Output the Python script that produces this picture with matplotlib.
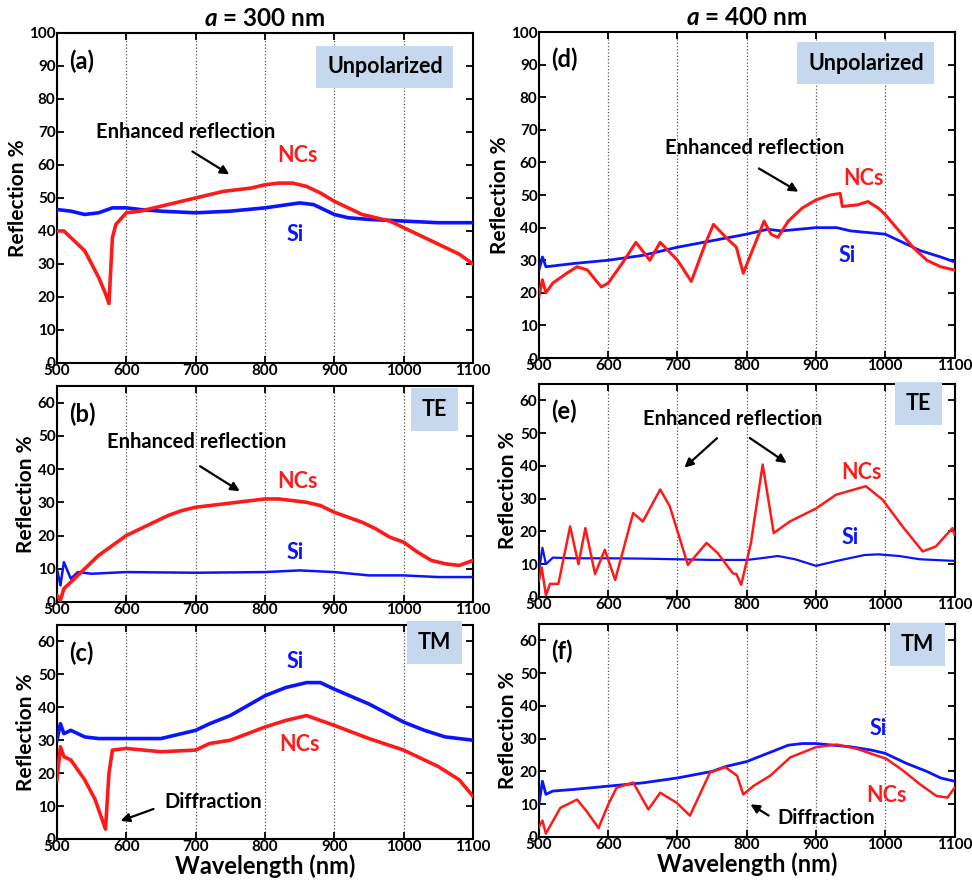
import matplotlib
matplotlib.use('Agg')
import matplotlib.pyplot as plt

plt.rcParams.update({
    'font.family': ['Lato', 'DejaVu Sans'], 'font.weight': 'bold',
    'axes.labelweight': 'bold', 'axes.titleweight': 'bold', 'axes.linewidth': 1.5,
    'mathtext.fontset': 'custom', 'mathtext.it': 'Lato:italic:bold',
    'mathtext.rm': 'Lato:bold',
})

RED, BLUE, BOX = '#ff1a1a', '#0a14ff', '#c5d8ee'

# ---- (a) a=300 nm, unpolarized ----
a_nc_wl = [500, 510, 520, 530, 540, 550, 560, 570, 575, 578, 580, 585, 600, 620, 640, 660, 680, 700, 720, 740,
           760, 780, 800, 820, 840, 860, 880, 900, 920, 940, 960, 980, 1000, 1020, 1040, 1060, 1080, 1100]
a_nc_r = [40, 40, 38, 36, 34, 30, 26, 21, 18, 30, 38, 42, 45.5, 46, 47, 48, 49, 50, 51, 52,
          52.5, 53, 54, 54.5, 54.5, 53.5, 51.5, 49, 47, 45, 44, 43, 41, 39, 37, 35, 33, 30]
a_si_wl = [500, 520, 540, 560, 580, 600, 620, 650, 700, 750, 800, 850, 870, 900, 920, 950, 1000, 1050, 1100]
a_si_r = [46.5, 46, 45, 45.5, 47, 47, 46.5, 46, 45.5, 46, 47, 48.5, 48, 45, 44, 43.5, 43, 42.5, 42.5]

# ---- (b) a=300 nm, TE ----
b_nc_wl = [500, 505, 510, 520, 540, 560, 580, 600, 620, 640, 660, 680, 700, 720, 740, 760, 780, 800, 820, 840,
           860, 880, 900, 920, 940, 960, 980, 1000, 1020, 1040, 1060, 1080, 1100]
b_nc_r = [2, 0.5, 4, 6, 10, 14, 17, 20, 22, 24, 26, 27.5, 28.5, 29, 29.5, 30, 30.5, 31, 31, 30.5,
          30, 29, 27, 25.5, 24, 22, 19.5, 18, 15, 12.5, 11.5, 11, 12.5]
b_si_wl = [500, 505, 510, 520, 530, 550, 600, 700, 800, 850, 900, 950, 1000, 1050, 1100]
b_si_r = [10, 5, 12, 7, 9, 8.5, 9, 8.8, 9, 9.5, 9, 8, 8, 7.5, 7.5]

# ---- (c) a=300 nm, TM ----
c_nc_wl = [500, 505, 510, 520, 540, 555, 570, 575, 580, 600, 650, 700, 720, 750, 800, 830, 860, 880, 900, 950,
           1000, 1050, 1080, 1100]
c_nc_r = [18, 28, 25, 24, 18, 12, 3, 20, 27, 27.5, 26.5, 27, 29, 30, 34, 36, 37.5, 36, 34.5, 30.5,
          27, 22, 18, 13]
c_si_wl = [500, 505, 510, 520, 540, 560, 600, 650, 700, 720, 750, 800, 830, 860, 880, 900, 950, 1000, 1030,
           1060, 1100]
c_si_r = [30, 35, 32, 33, 31, 30.5, 30.5, 30.5, 33, 35, 37.5, 43.5, 46, 47.5, 47.5, 45.5, 41, 35.5, 33,
          31, 30]

# ---- (d) a=400 nm, unpolarized ----
d_nc_wl = [500, 505, 510, 520, 540, 555, 570, 590, 600, 620, 640, 660, 675, 700, 720, 740, 752, 770, 785, 795,
           810, 825, 835, 845, 860, 880, 900, 920, 935, 938, 960, 975, 990, 1000, 1020, 1040, 1060, 1080, 1100]
d_nc_r = [19, 24, 20, 23, 26, 28, 27, 21.8, 23, 29, 35.5, 30, 35.5, 30, 23.5, 35, 41, 37, 34, 26,
          34, 42, 38, 37, 42, 46, 48.5, 50, 50.5, 46.5, 47, 48, 46, 44, 39, 34, 30, 28, 27]
d_si_wl = [500, 505, 510, 550, 600, 650, 700, 750, 800, 830, 850, 900, 930, 950, 1000, 1030, 1050, 1080, 1100]
d_si_r = [27, 31, 28, 29, 30, 31.5, 34, 36, 38, 39.5, 39, 40, 40, 39, 38, 35, 33, 31, 29.5]

# ---- (e) a=400 nm, TE ----
e_nc_wl = [500, 504, 510, 516, 528, 545, 557, 567, 581, 595, 610, 636, 650, 675, 689, 715, 742, 758, 780, 785,
           792, 806, 823, 839, 862, 900, 929, 972, 996, 1025, 1054, 1073, 1097, 1100]
e_nc_r = [5, 9, 0.5, 4, 4, 21.5, 10, 21, 7, 14.4, 5.2, 25.6, 23, 32.8, 27.6, 9.8, 16.5, 13.4, 7.2, 7,
          3.7, 16.4, 40.4, 19.5, 23, 27, 31.2, 33.8, 29.7, 21.5, 13.9, 15.4, 21, 19]
e_si_wl = [500, 505, 510, 520, 550, 600, 650, 700, 750, 800, 820, 845, 870, 900, 930, 970, 990, 1020, 1050, 1100]
e_si_r = [8, 15, 10, 12, 11.8, 11.8, 11.7, 11.5, 11.3, 11.3, 11.8, 12.5, 11.5, 9.5, 11, 12.8, 13, 12.5, 11.5, 11]

# ---- (f) a=400 nm, TM ----
f_nc_wl = [500, 505, 510, 517, 531, 555, 569, 586, 600, 612, 636, 658, 675, 699, 718, 747, 769, 786, 795, 810,
           834, 863, 900, 930, 959, 1002, 1026, 1050, 1074, 1090, 1100]
f_nc_r = [3, 5, 1, 3.7, 8.9, 11.4, 7.8, 2.7, 9.9, 15, 16.6, 8.4, 13.5, 10.4, 6.5, 19.7, 21.3, 18.7, 13, 15.6,
          18.7, 24.3, 27.4, 28.2, 26.9, 23.8, 20.2, 16.1, 12.5, 12, 15]
f_si_wl = [500, 505, 510, 520, 550, 600, 650, 700, 750, 770, 800, 830, 860, 880, 900, 950, 980, 1000, 1030,
           1060, 1080, 1100]
f_si_r = [10, 17, 13, 14, 14.5, 15.5, 16.5, 18, 20, 21.5, 23, 25.5, 28, 28.5, 28.5, 27.5, 26.5, 25.5, 22.5,
          20, 18, 17]

fig = plt.figure(figsize=(9.72, 8.81), dpi=100)

def panel(rect, ymax, yticks, nc, si, tag, boxtxt, box_xy, nc_lw=2.6, si_lw=2.6):
    ax = fig.add_axes(rect)
    ax.plot(si[0], si[1], color=BLUE, lw=si_lw, zorder=3)
    ax.plot(nc[0], nc[1], color=RED, lw=nc_lw, zorder=3)
    ax.set_xlim(500, 1100); ax.set_ylim(0, ymax)
    ax.set_xticks(range(500, 1101, 100)); ax.set_yticks(yticks)
    ax.tick_params(direction='in', top=True, right=True, length=5, width=1.3, labelsize=11, pad=1)
    for lab in ax.get_xticklabels() + ax.get_yticklabels():
        lab.set_fontweight('bold')
    ax.grid(axis='x', color='#555555', linestyle=':', linewidth=0.9)
    ax.set_ylabel('Reflection %', fontsize=15, labelpad=1)
    ax.text(0.03, 0.915 if ymax > 70 else 0.87, tag, transform=ax.transAxes, fontsize=17, va='center')
    ax.text(box_xy[0], box_xy[1], boxtxt, fontsize=15.5, ha='center', va='center', zorder=4,
            bbox=dict(boxstyle='square,pad=0.5', fc=BOX, ec='none'))
    return ax

def note(ax, txt, xy, xytext=None, text_xy=None, color='black', size=14.5):
    if text_xy is not None:
        ax.text(text_xy[0], text_xy[1], txt, color=color, fontsize=size, ha='center', va='center', zorder=5)
    if xytext is not None:
        ax.annotate('', xy=xy, xytext=xytext,
                    arrowprops=dict(arrowstyle='-|>', color='black', lw=1.6, mutation_scale=13), zorder=5)

L, W = 0.0586, 0.428
R, WR = 0.5545, 0.4275

ax = panel([L, 0.588, W, 0.3746], 100, range(0, 101, 10), (a_nc_wl, a_nc_r), (a_si_wl, a_si_r),
           '(a)', 'Unpolarized', (973, 89.7))
ax.set_title('$a$ = 300 nm', fontsize=17.5, pad=5)
note(ax, 'Enhanced reflection', None, text_xy=(686, 70))
note(ax, '', (752, 56.7), xytext=(692, 64.5))
note(ax, 'NCs', None, text_xy=(847, 63), color=RED, size=15.5)
note(ax, 'Si', None, text_xy=(843, 38.8), color=BLUE, size=15.5)

ax = panel([L, 0.3167, W, 0.2452], 65, range(0, 61, 10), (b_nc_wl, b_nc_r), (b_si_wl, b_si_r),
           '(b)', 'TE', (1044, 57.9), si_lw=1.8)
note(ax, 'Enhanced reflection', None, text_xy=(702, 48.2))
note(ax, '', (767, 32.9), xytext=(703, 41.3))
note(ax, 'NCs', None, text_xy=(847, 36.2), color=RED, size=15.5)
note(ax, 'Si', None, text_xy=(843, 15), color=BLUE, size=15.5)

ax = panel([L, 0.0477, W, 0.2429], 65, range(0, 61, 10), (c_nc_wl, c_nc_r), (c_si_wl, c_si_r),
           '(c)', 'TM', (1044, 59.7))
note(ax, 'Si', None, text_xy=(843, 53.9), color=BLUE, size=15.5)
note(ax, 'NCs', None, text_xy=(850, 28.6), color=RED, size=15.5)
note(ax, 'Diffraction', None, text_xy=(725, 11.3))
note(ax, '', (588, 5.2), xytext=(643, 9.4))
ax.set_xlabel('Wavelength (nm)', fontsize=17, labelpad=0)

ax = panel([R, 0.5936, WR, 0.370], 100, range(0, 101, 10), (d_nc_wl, d_nc_r), (d_si_wl, d_si_r),
           '(d)', 'Unpolarized', (972, 90.5), nc_lw=2.2, si_lw=2.0)
ax.set_title('$a$ = 400 nm', fontsize=17.5, pad=5)
note(ax, 'Enhanced reflection', None, text_xy=(811, 64.4))
note(ax, '', (878, 50.6), xytext=(814, 58.6))
note(ax, 'NCs', None, text_xy=(968, 55.2), color=RED, size=15.5)
note(ax, 'Si', None, text_xy=(945, 31.6), color=BLUE, size=15.5)

ax = panel([R, 0.3224, WR, 0.2418], 65, range(0, 61, 10), (e_nc_wl, e_nc_r), (e_si_wl, e_si_r),
           '(e)', 'TE', (1048, 59), nc_lw=1.8, si_lw=1.6)
note(ax, 'Enhanced reflection', None, text_xy=(780, 54.2))
note(ax, '', (707, 38.9), xytext=(760, 49))
note(ax, '', (861, 40.4), xytext=(801, 49))
note(ax, 'NCs', None, text_xy=(965, 38), color=RED, size=15.5)
note(ax, 'Si', None, text_xy=(949, 18), color=BLUE, size=15.5)

ax = panel([R, 0.050, WR, 0.2418], 65, range(0, 61, 10), (f_nc_wl, f_nc_r), (f_si_wl, f_si_r),
           '(f)', 'TM', (1046, 58.8), nc_lw=1.8, si_lw=2.0)
note(ax, 'Si', None, text_xy=(990, 33.2), color=BLUE, size=15.5)
note(ax, 'NCs', None, text_xy=(1002, 12.8), color=RED, size=15.5)
note(ax, 'Diffraction', None, text_xy=(914, 5.8))
note(ax, '', (802, 10.4), xytext=(835, 6.1))
ax.set_xlabel('Wavelength (nm)', fontsize=17, labelpad=0)

fig.savefig('out.png', dpi=100)
